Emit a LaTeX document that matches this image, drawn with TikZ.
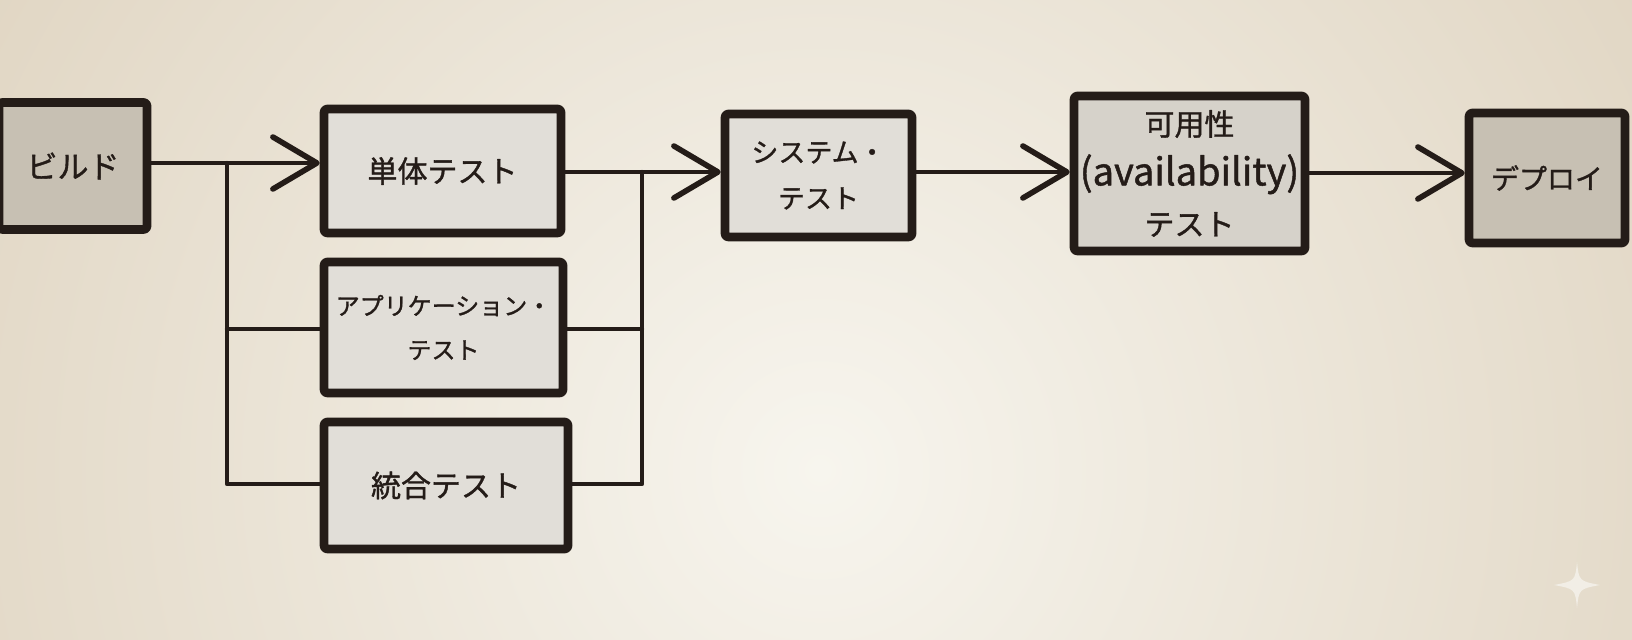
\documentclass[tikz,border=0pt]{standalone}
\usepackage{fontspec}
\setmainfont{Noto Sans CJK JP}[FakeBold=1.2]
\usetikzlibrary{arrows.meta}
\definecolor{ink}{RGB}{36,28,24}
\definecolor{bgouter}{RGB}{224,213,194}
\definecolor{bginner}{RGB}{247,245,238}
\definecolor{darkfill}{RGB}{199,192,179}
\definecolor{midfill}{RGB}{214,210,202}
\definecolor{lightfill}{RGB}{225,222,216}
\definecolor{spark}{RGB}{242,238,230}
\tikzset{
  box/.style={draw=ink, line width=4.3pt, rounded corners=1.5pt, line join=round,
    inner sep=0pt, align=center, text=ink, font=\fontsize{15pt}{23pt}\selectfont},
  wire/.style={draw=ink, line width=2.2pt, line cap=round, line join=round},
  arr/.style={wire, -{Straight Barb[length=22pt,width=26pt,line width=2.8pt,round]}},
}
\begin{document}
\begin{tikzpicture}[x=0.5pt,y=-0.5pt]
\useasboundingbox (0,0) rectangle (1632,640);
\begin{scope}
\clip (0,0) rectangle (1632,640);
\fill[bgouter] (0,0) rectangle (1632,640);
\shade[inner color=bginner, outer color=bgouter] (820,470) circle (1000);
\end{scope}
% boxes
\node[box, fill=darkfill, minimum width=74pt, minimum height=63.5pt,
  font=\fontsize{15.5pt}{23pt}\selectfont] (build) at (73,166) {ビルド};
\node[box, fill=lightfill, minimum width=118.5pt, minimum height=62pt] (unit) at (442.5,171) {単体テスト};
\node[box, fill=lightfill, minimum width=119.5pt, minimum height=65.5pt,
  font=\fontsize{12pt}{22pt}\selectfont] (app) at (443.5,327.5) {アプリケーション・\\テスト};
\node[box, fill=lightfill, minimum width=122pt, minimum height=63.5pt] (integ) at (446,485.5) {統合テスト};
\node[box, fill=lightfill, minimum width=93.5pt, minimum height=61.5pt,
  font=\fontsize{13.5pt}{23pt}\selectfont] (sys) at (818.5,175.5) {システム・\\テスト};
\node[box, fill=midfill, minimum width=115.5pt, minimum height=77.5pt,
  font=\fontsize{15pt}{25pt}\selectfont] (avail) at (1189.5,173.5) {可用性\\{\fontsize{19pt}{25pt}\selectfont (availability)}\\テスト};
\node[box, fill=darkfill, minimum width=78pt, minimum height=65pt,
  font=\fontsize{14pt}{20pt}\selectfont] (deploy) at (1547,178) {デプロイ};
% junction coordinates
\coordinate (j1) at (227,163);
\coordinate (j1a) at (227,329);
\coordinate (j1b) at (227,484);
\coordinate (j2) at (642,172);
\coordinate (j2a) at (642,329);
\coordinate (j2b) at (642,484);
% left bus
\draw[arr] (build.east |- j1) -- (j1) -- (unit.west |- j1);
\draw[wire] (j1) -- (j1a) -- (j1b) -- (integ.west |- j1b);
\draw[wire] (j1a) -- (app.west |- j1a);
% right bus
\draw[arr] (unit.east |- j2) -- (j2) -- (sys.west |- j2);
\draw[wire] (j2) -- (j2a) -- (j2b) -- (integ.east |- j2b);
\draw[wire] (j2a) -- (app.east |- j2a);
% main chain
\coordinate (m1) at (0,172);
\coordinate (m2) at (0,173);
\draw[arr] (sys.east |- m1) -- (avail.west |- m1);
\draw[arr] (avail.east |- m2) -- (deploy.west |- m2);
% sparkle watermark
\fill[spark] (1577,562) .. controls (1579,581) .. (1600,585) .. controls (1579,589) .. (1577,608)
  .. controls (1575,589) .. (1554,585) .. controls (1575,581) .. (1577,562) -- cycle;
\end{tikzpicture}
\end{document}
